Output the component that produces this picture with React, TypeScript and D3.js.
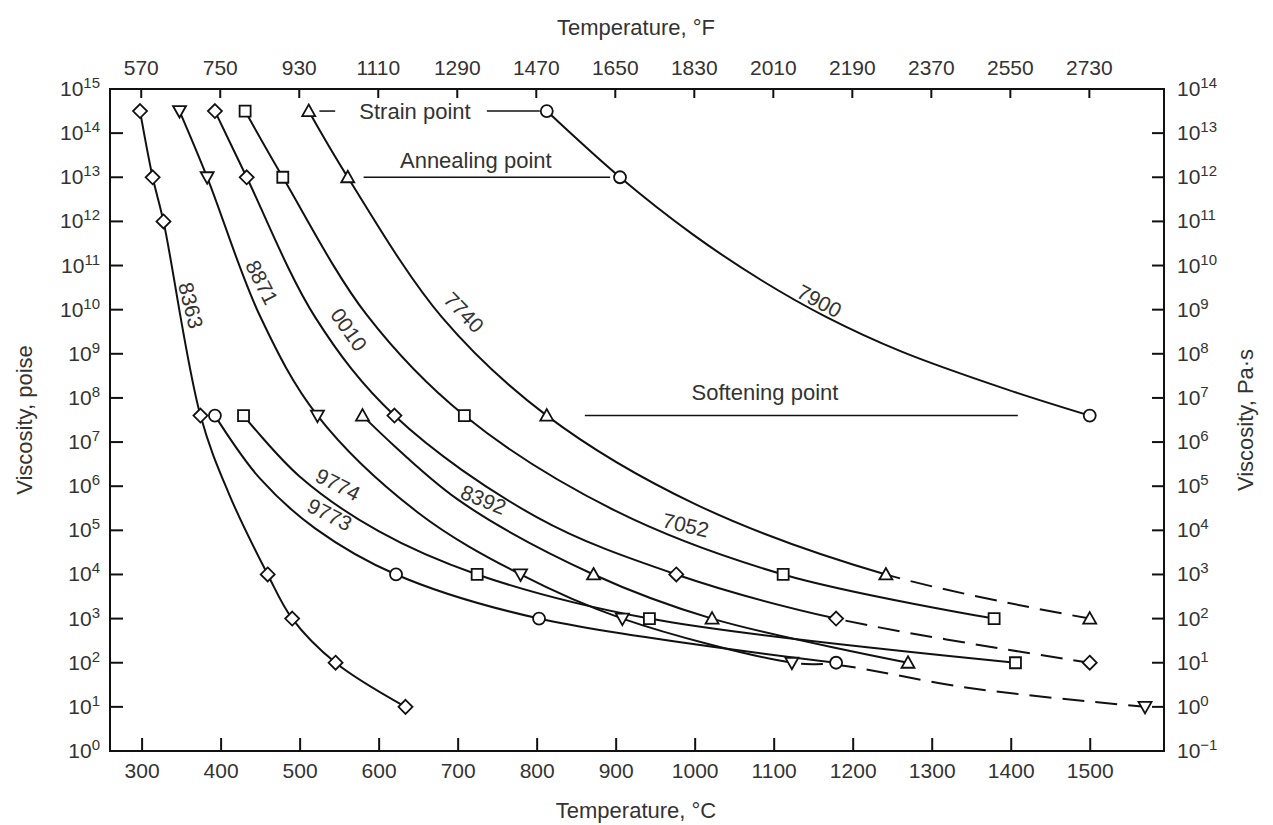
import {
  axisBottom,
  axisTop,
  curveCatmullRom,
  format,
  line as Line,
  scaleLinear,
  scaleLog,
  select,
} from "d3";
import React, { useLayoutEffect, useRef } from "react";

// temperature in °C, viscosity as log10(poise)
// marked points (symbols on the curve)
const t8363 = [298, 314, 327.7, 374.5, 459.6, 490.6, 545.5, 634];
const v8363 = [14.5, 13, 12, 7.6, 4, 3, 2, 1];
const t8871 = [348, 383, 522.6, 779.6, 908.5, 1123, 1570];
const v8871 = [14.5, 13, 7.6, 4, 3, 2, 1];
const t0010 = [392.8, 433, 620, 976.7, 1179, 1500];
const v0010 = [14.5, 13, 7.6, 4, 3, 2];
const t7052 = [431, 478.7, 708.5, 1112, 1379];
const v7052 = [14.5, 13, 7.6, 4, 3];
const t7740 = [511.5, 560.9, 812.8, 1242, 1500];
const v7740 = [14.5, 13, 7.6, 4, 3];
const t7900 = [812.8, 905.5, 1500];
const v7900 = [14.5, 13, 7.6];
const t8392 = [579.6, 872, 1022, 1270];
const v8392 = [7.6, 4, 3, 2];
const t9774 = [429, 724.7, 942.7, 1406];
const v9774 = [7.6, 4, 3, 2];
const t9773 = [392.8, 622, 803, 1179];
const v9773 = [7.6, 4, 3, 2];

// extra points read along the curves between symbols (no symbol drawn)
const p8363T = [410];
const p8363V = [5.85];
const p8871T = [450, 650, 1180, 1350];
const p8871V = [9.85, 5.4, 1.95, 1.42];
const p0010T = [520, 800];
const p0010V = [9.82, 5.3];
const p7052T = [585, 900];
const p7052V = [9.88, 5.44];
const p7740T = [680, 1000];
const p7740V = [9.83, 5.6];
const p7900T = [998, 1086, 1165, 1262, 1394];
const p7900V = [11.7, 10.65, 9.85, 9.05, 8.2];
const p8392T = [700];
const p8392V = [5.7];
const p9774T = [500, 600];
const p9774V = [6.22, 4.98];
const p9773T = [450, 520];
const p9773V = [6.17, 5.04];

const glasses = ["8363", "8871", "0010", "7052", "7740", "7900", "8392", "9774", "9773"];
const symbols = ["diamond", "triDown", "diamond", "square", "triUp", "circle", "triUp", "square", "circle"];
// temperature where the curve turns dashed (extrapolated)
const dashFrom: Record<string, number> = { "8871": 1123, "0010": 1179, "7740": 1242 };

// curve labels: temperature, log viscosity, angle
const labelT = [362.4, 452.3, 562.4, 988.7, 708, 1157.8, 732.7, 548.5, 538];
const labelV = [10.1, 10.62, 9.55, 5.12, 9.94, 10.2, 5.7, 6.04, 5.36];
const labelA = [76, 63, 55, 13, 46, 28, 22, 27, 27];

// reference points (viscosity, log poise)
const refNames = ["Strain point", "Annealing point", "Softening point"];
const refTextT = [646, 723, 1089];
const refTextV = [14.5, 13.37, 8.12];
const refLines: [number, number, number][] = [
  [525, 545, 14.5],
  [737, 804, 14.5],
  [581, 893, 13],
  [861, 1409, 7.6],
];

const cTicks = [300, 400, 500, 600, 700, 800, 900, 1000, 1100, 1200, 1300, 1400, 1500];
const fTicks = [570, 750, 930, 1110, 1290, 1470, 1650, 1830, 2010, 2190, 2370, 2550, 2730];
const poiseExp = [0, 1, 2, 3, 4, 5, 6, 7, 8, 9, 10, 11, 12, 13, 14, 15];
const pasExp = [-1, 0, 1, 2, 3, 4, 5, 6, 7, 8, 9, 10, 11, 12, 13, 14];

const W = 1273;
const H = 825;
const FONT = "'Liberation Sans', Arial, Helvetica, sans-serif";
const TEXT = "#333";

const series: Record<string, { t: number[]; v: number[]; pt: number[]; pv: number[] }> = {
  "8363": { t: t8363, v: v8363, pt: p8363T, pv: p8363V },
  "8871": { t: t8871, v: v8871, pt: p8871T, pv: p8871V },
  "0010": { t: t0010, v: v0010, pt: p0010T, pv: p0010V },
  "7052": { t: t7052, v: v7052, pt: p7052T, pv: p7052V },
  "7740": { t: t7740, v: v7740, pt: p7740T, pv: p7740V },
  "7900": { t: t7900, v: v7900, pt: p7900T, pv: p7900V },
  "8392": { t: t8392, v: v8392, pt: p8392T, pv: p8392V },
  "9774": { t: t9774, v: v9774, pt: p9774T, pv: p9774V },
  "9773": { t: t9773, v: v9773, pt: p9773T, pv: p9773V },
};

const markerPath = (kind: string) => {
  switch (kind) {
    case "diamond":
      return "M0,-7L7,0L0,7L-7,0Z";
    case "square":
      return "M-5.5,-5.5H5.5V5.5H-5.5Z";
    case "triUp":
      return "M0,-6.5L6.5,5L-6.5,5Z";
    case "triDown":
      return "M0,6.5L6.5,-5L-6.5,-5Z";
    default:
      return "M6,0A6,6 0 1,1 -6,0A6,6 0 1,1 6,0Z";
  }
};

const Chart: React.FC = () => {
  const ref = useRef<SVGSVGElement>(null);

  useLayoutEffect(() => {
    const svg = select(ref.current);
    const left = 110, right = 1164, top = 89, bottom = 751;

    const x = scaleLinear().domain([260, 1594]).range([left, right]);
    const xF = scaleLinear().domain([260 * 1.8 + 32, 1594 * 1.8 + 32]).range([left, right]);
    const y = scaleLog().domain([1, 1e15]).range([bottom, top]);
    const yR = scaleLog().domain([0.1, 1e14]).range([bottom, top]);
    const yv = (v: number) => y(Math.pow(10, v));

    const root = svg.append("g");
    root.append("rect").attr("width", W).attr("height", H).attr("fill", "#fff");

    // frame
    root
      .append("rect")
      .attr("x", left)
      .attr("y", top)
      .attr("width", right - left)
      .attr("height", bottom - top)
      .attr("fill", "none")
      .attr("stroke", "#111")
      .attr("stroke-width", 2);

    // bottom axis (°C)
    const gB = root
      .append("g")
      .attr("transform", `translate(0,${bottom})`)
      .call(
        axisBottom(x).tickValues(cTicks).tickFormat(format("d"))
          .tickSizeInner(-13).tickSizeOuter(0).tickPadding(12)
      );
    // top axis (°F)
    const gT = root
      .append("g")
      .attr("transform", `translate(0,${top})`)
      .call(
        axisTop(xF).tickValues(fTicks).tickFormat(format("d"))
          .tickSizeInner(-9).tickSizeOuter(0).tickPadding(14)
      );
    [gB, gT].forEach((g) => {
      g.select(".domain").remove();
      g.selectAll("line").attr("stroke", "#111").attr("stroke-width", 2);
      g.selectAll("text").attr("font-family", FONT).attr("font-size", 21).attr("fill", TEXT);
    });

    // left log axis (poise)
    poiseExp.forEach((e) => {
      const yy = y(Math.pow(10, e));
      if (e > 0 && e < 15) {
        root.append("line").attr("x1", left).attr("x2", left + 13).attr("y1", yy).attr("y2", yy)
          .attr("stroke", "#111").attr("stroke-width", 2);
      }
      const t = root.append("text").attr("x", 100).attr("y", yy + 7).attr("text-anchor", "end")
        .attr("font-family", FONT).attr("fill", TEXT);
      t.append("tspan").attr("font-size", 21).text("10");
      t.append("tspan").attr("font-size", 15).attr("dy", -8).text(String(e));
    });

    // right log axis (Pa·s)
    pasExp.forEach((e) => {
      const yy = yR(Math.pow(10, e));
      if (e > -1 && e < 14) {
        root.append("line").attr("x1", right).attr("x2", right - 12).attr("y1", yy).attr("y2", yy)
          .attr("stroke", "#111").attr("stroke-width", 2);
      }
      const t = root.append("text").attr("x", 1177).attr("y", yy + 7).attr("text-anchor", "start")
        .attr("font-family", FONT).attr("fill", TEXT);
      t.append("tspan").attr("font-size", 21).text("10");
      t.append("tspan").attr("font-size", 15).attr("dy", -8).text(e < 0 ? "\u2212" + Math.abs(e) : String(e));
    });

    // axis titles
    const title = (tx: number, ty: number, rot: number, s: string) =>
      root.append("text").attr("transform", `translate(${tx},${ty}) rotate(${rot})`)
        .attr("text-anchor", "middle").attr("font-family", FONT).attr("font-size", 22)
        .attr("fill", TEXT).text(s);
    title(636, 35, 0, "Temperature, \u00B0F");
    title(636, 818, 0, "Temperature, \u00B0C");
    title(32, 420, -90, "Viscosity, poise");
    title(1253, 420, -90, "Viscosity, Pa\u00B7s");

    // reference lines and texts
    refLines.forEach(([a, b, v]) => {
      root.append("line").attr("x1", x(a)).attr("x2", x(b)).attr("y1", yv(v)).attr("y2", yv(v))
        .attr("stroke", "#111").attr("stroke-width", 1.5);
    });
    refNames.forEach((n, i) => {
      root.append("text").attr("x", x(refTextT[i])).attr("y", yv(refTextV[i]))
        .attr("dominant-baseline", "central").attr("text-anchor", "middle")
        .attr("font-family", FONT).attr("font-size", 22).attr("fill", TEXT).text(n);
    });

    // curves
    const defs = svg.append("defs");
    const line = Line<[number, number]>()
      .x((d) => x(d[0]))
      .y((d) => yv(d[1]))
      .curve(curveCatmullRom.alpha(0.5));

    glasses.forEach((id) => {
      const s = series[id];
      const pts: [number, number][] = s.t
        .map((t, i) => [t, s.v[i]] as [number, number])
        .concat(s.pt.map((t, i) => [t, s.pv[i]] as [number, number]))
        .sort((a, b) => a[0] - b[0]);
      const d = line(pts) as string;
      const df = dashFrom[id];
      if (df === undefined) {
        root.append("path").attr("d", d).attr("fill", "none").attr("stroke", "#111").attr("stroke-width", 2);
      } else {
        const xs = x(df);
        defs.append("clipPath").attr("id", `solid-${id}`).append("rect")
          .attr("x", 0).attr("y", 0).attr("width", xs).attr("height", H);
        defs.append("clipPath").attr("id", `dash-${id}`).append("rect")
          .attr("x", xs).attr("y", 0).attr("width", W - xs).attr("height", H);
        root.append("path").attr("d", d).attr("fill", "none").attr("stroke", "#111")
          .attr("stroke-width", 2).attr("clip-path", `url(#solid-${id})`);
        root.append("path").attr("d", d).attr("fill", "none").attr("stroke", "#111")
          .attr("stroke-width", 2).attr("stroke-dasharray", "22 11").attr("clip-path", `url(#dash-${id})`);
      }
    });

    // markers
    glasses.forEach((id, k) => {
      const s = series[id];
      s.t.forEach((t, i) => {
        root.append("path").attr("d", markerPath(symbols[k]))
          .attr("transform", `translate(${x(t)},${yv(s.v[i])})`)
          .attr("fill", "#fff").attr("stroke", "#111").attr("stroke-width", 1.8);
      });
    });

    // curve labels
    glasses.forEach((id, k) => {
      root.append("text")
        .attr("transform", `translate(${x(labelT[k])},${yv(labelV[k])}) rotate(${labelA[k]})`)
        .attr("text-anchor", "middle").attr("dominant-baseline", "central")
        .attr("font-family", FONT).attr("font-size", 21).attr("fill", TEXT).text(id);
    });

    return () => {
      svg.selectAll("*").remove();
    };
  }, []);

  return (
    <svg
      ref={ref}
      width={W}
      height={H}
      style={{ position: "absolute", left: 0, top: 0, background: "#fff" }}
    />
  );
};

export default function App() {
  return <Chart />;
}
